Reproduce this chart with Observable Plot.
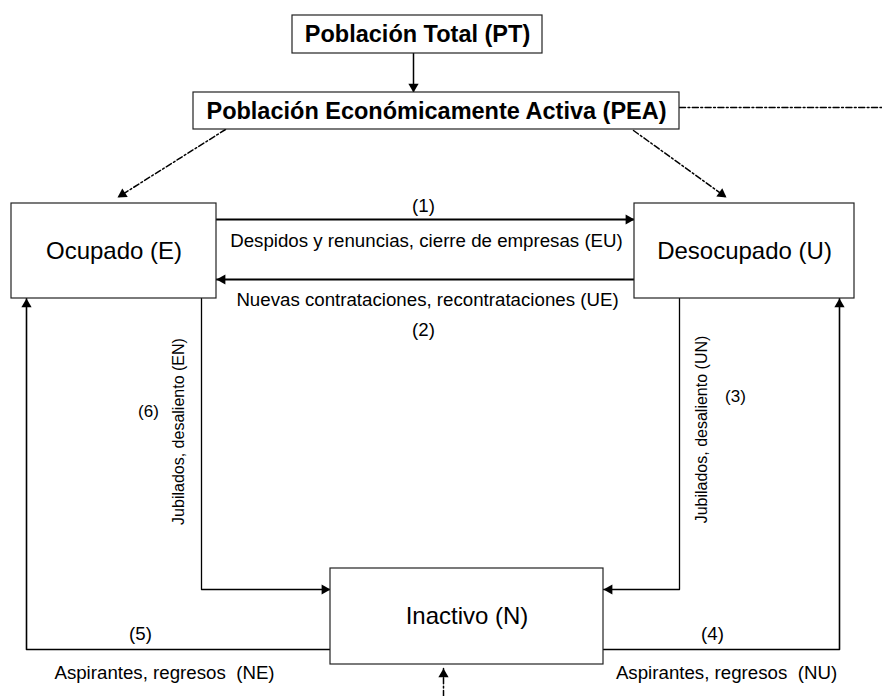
<!DOCTYPE html>
<html>
<head>
<meta charset="utf-8">
<script src="https://cdn.jsdelivr.net/npm/d3@7"></script>
<script src="https://cdn.jsdelivr.net/npm/@observablehq/plot@0.6"></script>
<style>
  html, body { margin: 0; padding: 0; background: #fff; }
  #chart svg { display: block; }
</style>
</head>
<body>
<div id="chart"></div>
<script>
// ---- Diagram content ----
const boxIds    = ["PT", "PEA", "E", "U", "N"];
const boxLabels = ["Población Total (PT)", "Población Económicamente Activa (PEA)", "Ocupado (E)", "Desocupado (U)", "Inactivo (N)"];
const boxBold   = [true, true, false, false, false];
// layout of the boxes (diagram units = pixels)
const boxLeft   = [292, 193, 11, 634, 330];
const boxTop    = [15, 92, 203, 203, 568];
const boxRight  = [542, 679, 216, 854, 603];
const boxBottom = [53, 129, 298, 298, 664];

// flows: polyline routes
const flowIds    = ["PT-PEA", "PEA-E", "PEA-U", "PEA-out", "EU", "UE", "EN", "UN", "NE", "NU", "in-N"];
const flowRoutes = [
  [[413, 53], [413, 92]],
  [[225, 129], [117, 197]],
  [[633, 130], [726, 197]],
  [[679, 107], [882, 107]],
  [[216, 219], [634, 219]],
  [[634, 279], [216, 279]],
  [[201, 298], [201, 589], [330, 589]],
  [[679, 298], [679, 589], [603, 589]],
  [[330, 649], [26, 649], [26, 298]],
  [[603, 649], [839, 649], [839, 298]],
  [[443, 696], [443, 668]]
];
const flowDashed = [false, true, true, true, false, false, false, false, false, false, true];
const flowHead   = [true, true, true, false, true, true, true, true, true, true, true];
const flowWidth  = [1.5, 1.5, 1.5, 1.5, 2, 2, 1.3, 1.3, 1.6, 1.6, 1.5];

// annotation labels
const noteTexts  = ["(1)", "Despidos y renuncias, cierre de empresas (EU)", "Nuevas contrataciones, recontrataciones (UE)", "(2)",
                    "(6)", "Jubilados, desaliento (EN)", "Jubilados, desaliento (UN)", "(3)",
                    "(5)", "Aspirantes, regresos  (NE)", "(4)", "Aspirantes, regresos  (NU)"];
const noteX      = [423, 426, 427, 423, 148, 178, 701, 735, 140, 164, 712, 726];
const noteY      = [206, 241, 300, 330, 411, 431, 429, 396, 634, 673, 634, 673];
const noteRotate = [0, 0, 0, 0, 0, -90, -90, 0, 0, 0, 0, 0];
const noteSize   = [18.7, 18.7, 18.7, 18.7, 17, 16, 16, 17, 18.7, 18.7, 18.7, 18.7];

// ---- build tables ----
const boxes = boxIds.map((id, i) => ({
  id, label: boxLabels[i], bold: boxBold[i],
  x1: boxLeft[i], y1: boxTop[i], x2: boxRight[i], y2: boxBottom[i],
  cx: (boxLeft[i] + boxRight[i]) / 2, cy: (boxTop[i] + boxBottom[i]) / 2
}));
const notes = noteTexts.map((t, i) => ({text: t, x: noteX[i], y: noteY[i], rotate: noteRotate[i], size: noteSize[i]}));

// arrow heads: filled triangles at the end of each route
const headR = 3.8;
const headOffset = 2 * Math.sqrt((headR * headR * Math.PI) / (3 * Math.sqrt(3)));
const heads = [];
flowIds.forEach((id, i) => {
  if (!flowHead[i]) return;
  const pts = flowRoutes[i];
  const [x1, y1] = pts[pts.length - 2];
  const [x2, y2] = pts[pts.length - 1];
  const dx = x2 - x1, dy = y2 - y1, len = Math.hypot(dx, dy);
  heads.push({
    id,
    x: x2 - dx / len * headOffset,
    y: y2 - dy / len * headOffset,
    angle: Math.atan2(dx, -dy) * 180 / Math.PI
  });
});

const font = "'Liberation Sans', Arial, Helvetica, sans-serif";

const flowMarks = flowIds.map((id, i) =>
  Plot.line(flowRoutes[i].map(([x, y]) => ({x, y})), {
    x: "x", y: "y",
    stroke: "#000",
    strokeWidth: flowWidth[i],
    strokeDasharray: flowDashed[i] ? "6,2.5,1.8,2.5" : null,
    curve: "linear"
  })
);

const noteMarks = [...new Set(noteSize)].map(s =>
  Plot.text(notes.filter(d => d.size === s), {x: "x", y: "y", text: "text", rotate: "rotate", fontSize: s, fill: "#000", lineAnchor: "middle", fontFamily: font})
);

const chart = Plot.plot({
  width: 882,
  height: 696,
  margin: 0,
  style: {background: "#fff", fontFamily: font},
  x: {domain: [0, 882], range: [0, 882], axis: null},
  y: {domain: [0, 696], range: [0, 696], axis: null},
  marks: [
    ...flowMarks,
    Plot.dot(heads, {x: "x", y: "y", symbol: "triangle", r: headR, rotate: "angle", fill: "#000", stroke: "none"}),
    Plot.rect(boxes, {x1: "x1", y1: "y1", x2: "x2", y2: "y2", fill: "#fff", stroke: "#222", strokeWidth: 1.2}),
    Plot.text(boxes.filter(d => d.bold), {x: "cx", y: "cy", text: "label", fontSize: 23.5, fontWeight: "bold", fill: "#000", lineAnchor: "middle", fontFamily: font}),
    Plot.text(boxes.filter(d => !d.bold), {x: "cx", y: "cy", text: "label", fontSize: 24, fill: "#000", lineAnchor: "middle", fontFamily: font}),
    ...noteMarks
  ]
});
document.getElementById("chart").appendChild(chart);
</script>
</body>
</html>
